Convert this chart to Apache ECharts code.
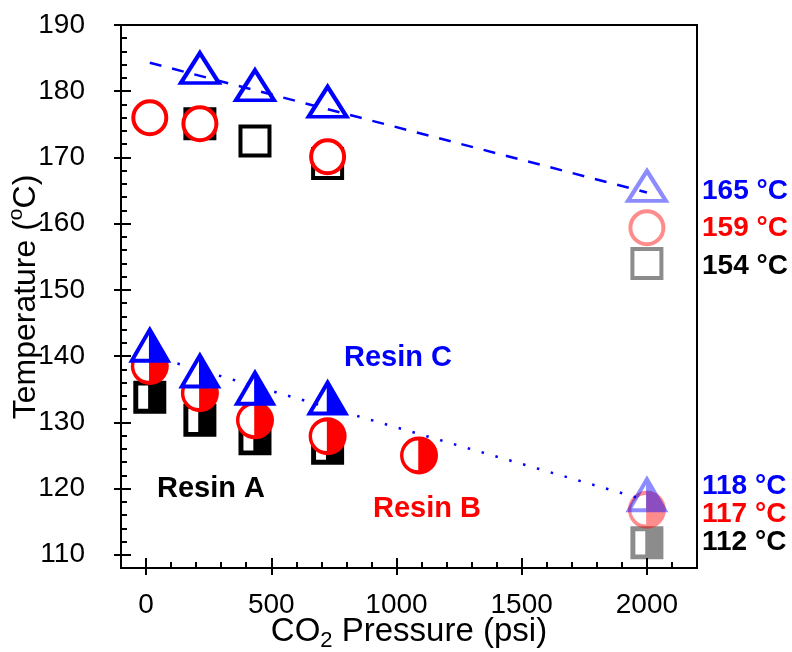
<!DOCTYPE html>
<html>
<head>
<meta charset="utf-8">
<script src="https://cdn.jsdelivr.net/npm/echarts@6/dist/echarts.min.js"></script>
<style>html,body{margin:0;padding:0;background:#fff}#c{width:792px;height:652px}</style>
</head>
<body>
<div id="c"></div>
<script>
// ---- tick values ----
const xMajorTicks = [0, 500, 1000, 1500, 2000];
const xMinorTicks = [-100, 100, 200, 300, 400, 600, 700, 800, 900, 1100, 1200, 1300, 1400, 1600, 1700, 1800, 1900, 2100];
const yMajorTicks = [110, 120, 130, 140, 150, 160, 170, 180, 190];
const yMinorTicks = [108, 112, 114, 116, 118, 122, 124, 126, 128, 132, 134, 136, 138, 142, 144, 146, 148,
                     152, 154, 156, 158, 162, 164, 166, 168, 172, 174, 176, 178, 182, 184, 186, 188];

// ---- upper transition (open symbols) ----
const upperA_p = [215, 435, 725, 2000];
const upperA_T = [175.1, 172.5, 169.1, 154.0];
const upperB_p = [15, 215, 725, 2000];
const upperB_T = [176.0, 175.1, 170.1, 159.4];
const upperC_p = [215, 435, 725, 2000];
const upperC_T = [182.6, 180.0, 177.5, 164.8];

// ---- lower transition (half-filled symbols) ----
const lowerA_p = [15, 215, 435, 725, 2000];
const lowerA_T = [133.8, 130.3, 127.5, 126.1, 111.8];
const lowerB_p = [15, 215, 435, 725, 1090, 2000];
const lowerB_T = [138.5, 134.4, 130.3, 127.9, 125.0, 116.8];
const lowerC_p = [15, 215, 435, 725, 2000];
const lowerC_T = [140.9, 137.0, 134.4, 132.9, 118.3];

// ---- linear fits (Resin C) ----
const fitUpper_p = [15, 2000];
const fitUpper_T = [184.3, 164.7];
const fitLower_p = [15, 2000];
const fitLower_T = [140.1, 118.2];

// ---- annotation texts ----
const resinLabels = ['Resin A', 'Resin B', 'Resin C'];
const projUpperLabels = ['165 °C', '159 °C', '154 °C'];
const projLowerLabels = ['118 °C', '117 °C', '112 °C'];

const FONT = '"Liberation Sans", Arial, Helvetica, sans-serif';
const BLUE = '#0000ff', RED = '#ff0000', BLACK = '#000000';
const PROJ_P = 2000;

function pts(ps, ts) {
  return ps.map((p, i) => {
    const d = { value: [p, ts[i]] };
    if (p === PROJ_P) d.itemStyle = { opacity: 0.45 };
    return d;
  });
}
function line(ps, ts) { return ps.map((p, i) => [p, ts[i]]); }

const halfSquare = 'path://M0,0L100,0L100,100L0,100ZM15,15L15,85L45,85L45,15Z';
const halfCircle = 'path://M50,0A50,50,0,1,1,50,100A50,50,0,1,1,50,0ZM48,11A39,39,0,0,0,48,89Z';
const halfTri = 'path://M50,0L100,100L0,100ZM48,25.6L16.2,89.2L48,89.2Z';

const XMIN = -100, XMAX = 2200, YMIN = 108, YMAX = 190;
const tickStyle = { color: BLACK, width: 2 };
const hiddenLine = { show: true, onZero: false, lineStyle: { color: 'rgba(0,0,0,0)', width: 0 } };

function xAx(extra) {
  return Object.assign({
    type: 'value', min: XMIN, max: XMAX, position: 'bottom', offset: 0,
    splitLine: { show: false }, axisLabel: { show: false }, axisLine: hiddenLine
  }, extra);
}
function yAx(extra) {
  return Object.assign({
    type: 'value', min: YMIN, max: YMAX, position: 'left', offset: 0,
    splitLine: { show: false }, axisLabel: { show: false }, axisLine: hiddenLine
  }, extra);
}

const chart = echarts.init(document.getElementById('c'), null, { renderer: 'canvas' });
chart.setOption({
  animation: false,
  backgroundColor: '#fff',
  grid: { left: 121, right: 95, top: 25, bottom: 84, containLabel: false, outerBoundsMode: 'none',
          show: true, borderColor: BLACK, borderWidth: 2, backgroundColor: 'transparent' },
  xAxis: [
    xAx({
      axisLine: { show: true, onZero: false, lineStyle: { color: BLACK, width: 2 } },
      axisTick: { show: true, customValues: xMajorTicks, inside: false, length: 7, lineStyle: tickStyle },
      axisLabel: { show: true, customValues: xMajorTicks, margin: 23, fontSize: 28, color: BLACK, fontFamily: FONT,
                   formatter: v => String(v) }
    }),
    xAx({ axisTick: { show: true, customValues: xMajorTicks, inside: true, length: 10, lineStyle: tickStyle } }),
    xAx({ axisTick: { show: true, customValues: xMinorTicks, inside: true, length: 6, lineStyle: tickStyle } })
  ],
  yAxis: [
    yAx({
      axisLine: { show: true, onZero: false, lineStyle: { color: BLACK, width: 2 } },
      axisTick: { show: true, customValues: yMajorTicks, inside: false, length: 7, lineStyle: tickStyle },
      axisLabel: { show: true, customValues: yMajorTicks, margin: 36, fontSize: 28, color: BLACK, fontFamily: FONT,
                   formatter: v => String(v) }
    }),
    yAx({ axisTick: { show: true, customValues: yMajorTicks, inside: true, length: 10, lineStyle: tickStyle } }),
    yAx({ axisTick: { show: true, customValues: yMinorTicks, inside: true, length: 6, lineStyle: tickStyle } })
  ],
  series: [
    // upper, open symbols
    { name: 'Resin A upper', type: 'scatter', symbol: 'rect', symbolSize: 29, data: pts(upperA_p, upperA_T),
      itemStyle: { color: 'rgba(255,255,255,0)', borderColor: BLACK, borderWidth: 4, opacity: 1 } },
    { name: 'Resin B upper', type: 'scatter', symbol: 'circle', symbolSize: 33, data: pts(upperB_p, upperB_T),
      itemStyle: { color: '#fff', borderColor: RED, borderWidth: 4, opacity: 1 } },
    { name: 'Resin C upper', type: 'scatter', symbol: 'triangle', symbolSize: [38, 30], symbolOffset: [0, -6],
      data: pts(upperC_p, upperC_T),
      itemStyle: { color: 'rgba(255,255,255,0)', borderColor: BLUE, borderWidth: 4, opacity: 1 } },
    // lower, half-filled symbols
    { name: 'Resin A lower', type: 'scatter', symbol: halfSquare, symbolSize: 33, data: pts(lowerA_p, lowerA_T),
      itemStyle: { color: BLACK, opacity: 1 } },
    { name: 'Resin B lower bg', type: 'scatter', symbol: 'circle', symbolSize: 36, silent: true,
      data: pts(lowerB_p, lowerB_T).filter(d => d.value[0] !== PROJ_P), itemStyle: { color: '#fff', opacity: 1 } },
    { name: 'Resin B lower', type: 'scatter', symbol: halfCircle, symbolSize: 38, data: pts(lowerB_p, lowerB_T),
      itemStyle: { color: RED, opacity: 1 } },
    { name: 'Resin C lower bg', type: 'scatter', symbol: 'triangle', symbolSize: [38, 32], symbolOffset: [0, -6], silent: true,
      data: pts(lowerC_p, lowerC_T).filter(d => d.value[0] !== PROJ_P), itemStyle: { color: '#fff', opacity: 1 } },
    { name: 'Resin C lower', type: 'scatter', symbol: halfTri, symbolSize: [43, 37], symbolOffset: [0, -6],
      data: pts(lowerC_p, lowerC_T), itemStyle: { color: BLUE, opacity: 1 } },
    // fits
    { name: 'fit upper', type: 'line', z: 5, silent: true, showSymbol: false, symbol: 'none',
      data: line(fitUpper_p, fitUpper_T), lineStyle: { color: BLUE, width: 2.5, type: [12, 11] } },
    { name: 'fit lower', type: 'line', z: 5, silent: true, showSymbol: false, symbol: 'none',
      data: line(fitLower_p, fitLower_T), lineStyle: { color: BLUE, width: 2.5, type: [2.5, 11.9] } }
  ],
  graphic: [
    { type: 'text', x: 409, y: 632, style: {
        text: '{m|CO}{s|2}{m| Pressure (psi)}', align: 'center', verticalAlign: 'middle', fill: BLACK,
        rich: { m: { fontSize: 33, lineHeight: 40, fontFamily: FONT, fill: BLACK },
                s: { fontSize: 22, lineHeight: 22, fontFamily: FONT, verticalAlign: 'bottom', fill: BLACK } } } },
    { type: 'text', x: 26, y: 297, rotation: Math.PI / 2, style: {
        text: '{m|Temperature (}{o|o}{m|C)}', align: 'center', verticalAlign: 'middle', fill: BLACK,
        rich: { m: { fontSize: 32, lineHeight: 40, fontFamily: FONT, fill: BLACK },
                o: { fontSize: 21, lineHeight: 21, fontFamily: FONT, verticalAlign: 'top', fill: BLACK } } } },
    { type: 'text', x: 211, y: 489, style: { text: resinLabels[0], fill: BLACK, font: 'bold 29px ' + FONT, align: 'center', verticalAlign: 'middle' } },
    { type: 'text', x: 427, y: 509, style: { text: resinLabels[1], fill: RED, font: 'bold 29px ' + FONT, align: 'center', verticalAlign: 'middle' } },
    { type: 'text', x: 398, y: 358, style: { text: resinLabels[2], fill: BLUE, font: 'bold 29px ' + FONT, align: 'center', verticalAlign: 'middle' } },
    { type: 'text', x: 702, y: 191, style: { text: projUpperLabels[0], fill: BLUE, font: 'bold 28px ' + FONT, verticalAlign: 'middle' } },
    { type: 'text', x: 702, y: 228, style: { text: projUpperLabels[1], fill: RED, font: 'bold 28px ' + FONT, verticalAlign: 'middle' } },
    { type: 'text', x: 702, y: 266, style: { text: projUpperLabels[2], fill: BLACK, font: 'bold 28px ' + FONT, verticalAlign: 'middle' } },
    { type: 'text', x: 702, y: 486, style: { text: projLowerLabels[0], fill: BLUE, font: 'bold 28px ' + FONT, verticalAlign: 'middle' } },
    { type: 'text', x: 702, y: 514, style: { text: projLowerLabels[1], fill: RED, font: 'bold 28px ' + FONT, verticalAlign: 'middle' } },
    { type: 'text', x: 702, y: 542, style: { text: projLowerLabels[2], fill: BLACK, font: 'bold 28px ' + FONT, verticalAlign: 'middle' } }
  ]
});
</script>
</body>
</html>
